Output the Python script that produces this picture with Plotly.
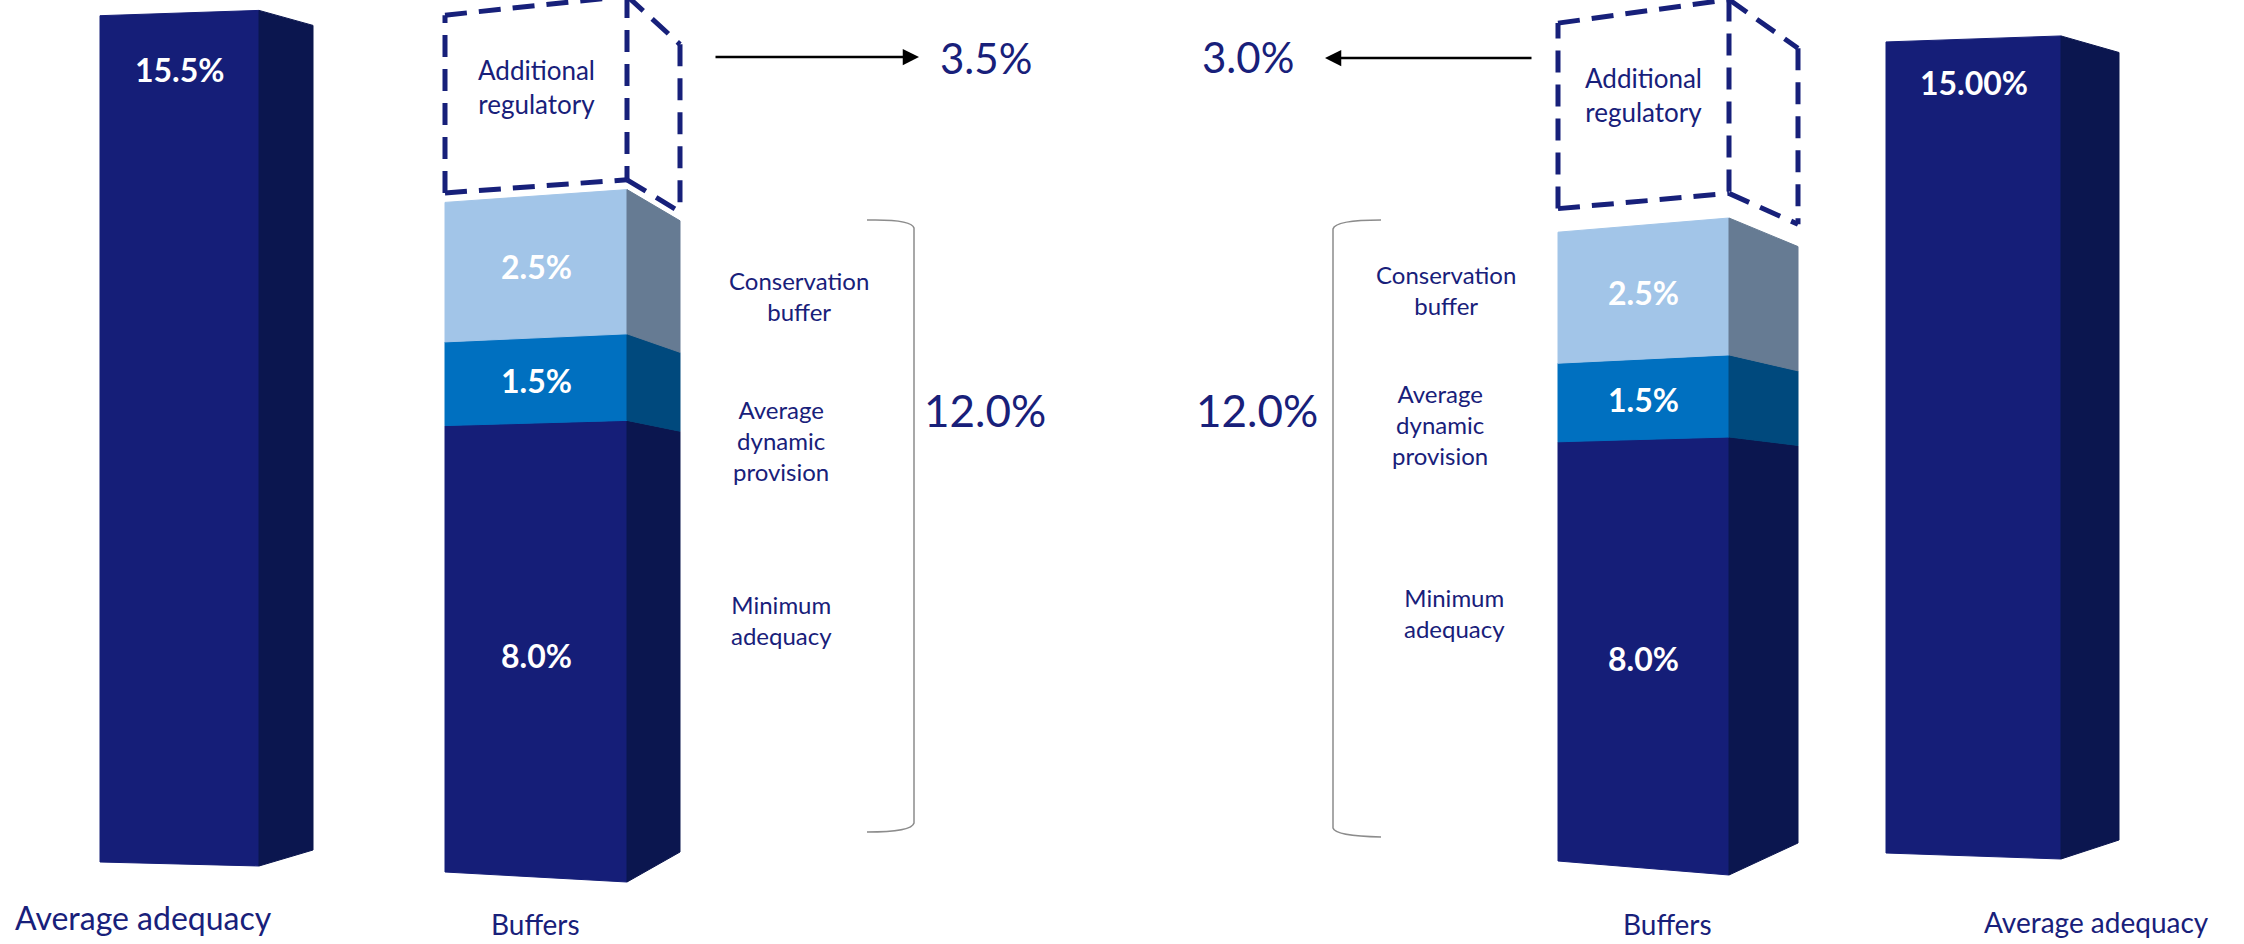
import plotly.graph_objects as go

# ---------------- data ----------------
avg_adequacy = [15.5, 15.0]                 # left panel, right panel
avg_adequacy_labels = ["15.5%", "15.00%"]
buffer_components = ["Minimum adequacy", "Average dynamic provision", "Conservation buffer"]
buffer_values = [8.0, 1.5, 2.5]
buffer_labels = ["8.0%", "1.5%", "2.5%"]
component_text = ["Minimum<br>adequacy", "Average<br>dynamic<br>provision", "Conservation<br>buffer"]
additional_regulatory = [3.5, 3.0]
additional_labels = ["3.5%", "3.0%"]
additional_text = "Additional<br>regulatory"
buffer_total_label = "12.0%"
category_labels = ["Average adequacy", "Buffers", "Buffers", "Average adequacy"]

# ---------------- style / geometry ----------------
W, H = 2244, 944
FONT = "Lato"
NAVY_TXT = "#18207A"
front_colors = ["#151E78", "#0070C0", "#A2C5E8"]
side_colors = ["#0B164F", "#00497D", "#667B93"]
AVG_FRONT, AVG_SIDE = "#151E78", "#0B164F"

# per bar: x of front-left, front-right, side-right edge; pixel base of each edge; px per % on each edge
geom = {
    "LA": dict(x=(100, 259, 313), base=(862, 866, 850), k=(54.6, 55.2, 53.2), axis="y"),
    "LB": dict(x=(445, 627, 680), base=(872, 882, 852), k=(55.8, 57.7, 52.6), axis="y2"),
    "RB": dict(x=(1558, 1729, 1798), base=(861, 875, 843), k=(52.4, 54.75, 49.7), axis="y3"),
    "RA": dict(x=(1886, 2061, 2119), base=(853, 859, 840), k=(54.07, 54.87, 52.5), axis="y4"),
}
box_gap = {"LB": 0.17, "RB": 0.45}
box_scale = {"LB": 0.91, "RB": 1.18}
avg_label_drop = {"LA": 54, "RA": 41}


def u(g, e, v):
    """value v on edge e (0 front-left, 1 front-right, 2 side) in this bar's axis units"""
    return (g["base"][0] - g["base"][e]) / g["k"][0] + v * g["k"][e] / g["k"][0]


fig = go.Figure()


def add_poly(xs, ys, color, axis):
    fig.add_trace(go.Scatter(x=xs + [xs[0]], y=ys + [ys[0]], mode="lines", fill="toself",
                             fillcolor=color, line=dict(color=color, width=1),
                             yaxis=axis, hoverinfo="skip", showlegend=False))


def add_segment(g, v0, v1, fcol, scol):
    xL, xR, xS = g["x"]
    add_poly([xL, xR, xR, xL], [u(g, 0, v0), u(g, 1, v0), u(g, 1, v1), u(g, 0, v1)], fcol, g["axis"])
    add_poly([xR, xS, xS, xR], [u(g, 1, v0), u(g, 2, v0), u(g, 2, v1), u(g, 1, v1)], scol, g["axis"])


annotations = []

# average adequacy bars
for key, val, lab in [("LA", avg_adequacy[0], avg_adequacy_labels[0]), ("RA", avg_adequacy[1], avg_adequacy_labels[1])]:
    g = geom[key]
    add_segment(g, 0, val, AVG_FRONT, AVG_SIDE)
    annotations.append(dict(x=(g["x"][0] + g["x"][1]) / 2, y=u(g, 0, val), xref="x", yref=g["axis"],
                            yshift=-avg_label_drop[key], text=f"<b>{lab}</b>", showarrow=False,
                            font=dict(family=FONT, size=32, color="white")))

# stacked buffers bars + dashed additional box
for key, add_val in [("LB", additional_regulatory[0]), ("RB", additional_regulatory[1])]:
    g = geom[key]
    xL, xR, xS = g["x"]
    cum = 0.0
    for val, lab, fc, sc in zip(buffer_values, buffer_labels, front_colors, side_colors):
        add_segment(g, cum, cum + val, fc, sc)
        mid = cum + val / 2
        annotations.append(dict(x=(xL + xR) / 2, y=(u(g, 0, mid) + u(g, 1, mid)) / 2, xref="x", yref=g["axis"],
                                yshift=-5 if val == max(buffer_values) else 0,
                                text=f"<b>{lab}</b>", showarrow=False,
                                font=dict(family=FONT, size=32, color="white")))
        cum += val
    vb = cum + box_gap[key]
    vt = vb + add_val * box_scale[key]
    edges = [
        ([xL, xL], [u(g, 0, vb), u(g, 0, vt)]),
        ([xL, xR], [u(g, 0, vt), u(g, 1, vt)]),
        ([xR, xR], [u(g, 1, vt), u(g, 1, vb)]),
        ([xL, xR], [u(g, 0, vb), u(g, 1, vb)]),
        ([xR, xS], [u(g, 1, vt), u(g, 2, vt)]),
        ([xS, xS], [u(g, 2, vt), u(g, 2, vb)]),
        ([xR, xS], [u(g, 1, vb), u(g, 2, vb)]),
    ]
    for ex, ey in edges:
        fig.add_trace(go.Scatter(x=ex, y=ey, mode="lines", yaxis=g["axis"], hoverinfo="skip",
                                 showlegend=False,
                                 line=dict(color="#17207A", width=5, dash="22px,12px")))
    annotations.append(dict(x=(xL + xR) / 2, y=u(g, 0, vt), xref="x", yref=g["axis"], yshift=-72,
                            text=additional_text, showarrow=False,
                            font=dict(family=FONT, size=26, color=NAVY_TXT)))

# ---------------- decorative annotations (pixel frame on y5) ----------------
def txt(x, y, s, size, color=NAVY_TXT, align="center"):
    annotations.append(dict(x=x, y=y, xref="x", yref="y5", text=s, showarrow=False, align=align,
                            font=dict(family=FONT, size=size, color=color)))

# arrows
annotations.append(dict(x=919, y=57, xref="x", yref="y5", ax=-205, ay=0, axref="pixel", ayref="pixel",
                        showarrow=True, arrowhead=2, arrowsize=1.3, arrowwidth=2.5, arrowcolor="black", text=""))
annotations.append(dict(x=1325, y=58, xref="x", yref="y5", ax=208, ay=0, axref="pixel", ayref="pixel",
                        showarrow=True, arrowhead=2, arrowsize=1.3, arrowwidth=2.5, arrowcolor="black", text=""))
txt(986, 58, additional_labels[0], 42)
txt(1248, 57, additional_labels[1], 42)
txt(985, 410, buffer_total_label, 44)
txt(1257, 410, buffer_total_label, 44)

# component labels
left_pos = [(781, 620), (781, 440), (799, 296)]
right_pos = [(1454, 613), (1440, 424), (1446, 290)]
for t, (x1, y1), (x2, y2) in zip(component_text, left_pos, right_pos):
    txt(x1, y1, t, 24)
    txt(x2, y2, t, 24)

# category labels
cat_pos = [(143, 917, 32), (535, 924, 28), (1667, 924, 28), (2096, 922, 28)]
for t, (x, y, s) in zip(category_labels, cat_pos):
    txt(x, y, t, s)

shapes = [
    dict(type="path", xref="x", yref="y5", line=dict(color="#8C8C8C", width=1.5),
         path="M 867,220 Q 912,219 914,228 L 914,823 Q 912,832 867,832"),
    dict(type="path", xref="x", yref="y5", line=dict(color="#8C8C8C", width=1.5),
         path="M 1381,220 Q 1335,220 1333,229 L 1333,828 Q 1335,836 1381,837"),
]

# ---------------- layout ----------------
def yax(key):
    g = geom[key]
    hi = g["base"][0] / g["k"][0]
    lo = hi - H / g["k"][0]
    return dict(range=[lo, hi], visible=False, fixedrange=True)

fig.update_layout(
    width=W, height=H, margin=dict(l=0, r=0, t=0, b=0),
    paper_bgcolor="white", plot_bgcolor="white", showlegend=False,
    xaxis=dict(range=[0, W], visible=False, fixedrange=True),
    yaxis=yax("LA"),
    yaxis2=dict(**yax("LB"), overlaying="y"),
    yaxis3=dict(**yax("RB"), overlaying="y"),
    yaxis4=dict(**yax("RA"), overlaying="y"),
    yaxis5=dict(range=[H, 0], visible=False, fixedrange=True, overlaying="y"),
    annotations=annotations, shapes=shapes,
)

fig.write_html("out.html")
